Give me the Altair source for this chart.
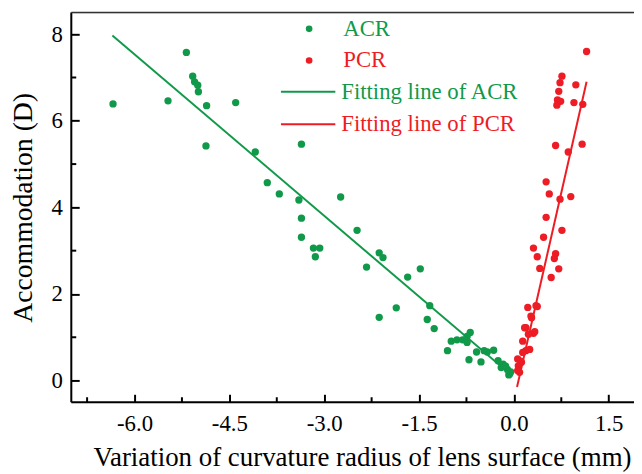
import altair as alt
import pandas as pd

SERIF = "Liberation Serif"

# ---- data ----
acr_x = [-6.34, -5.18, -5.08, -5.05, -5.00, -4.99, -5.47, -4.86, -4.40, -4.87,
         -4.09, -3.36, -3.90, -3.71, -3.40, -2.74, -3.36, -3.36, -2.48, -3.17,
         -3.07, -3.14, -2.13, -2.07, -2.33, -1.68, -1.48, -1.86, -2.13, -1.33,
         -1.37, -1.26, -0.69, -0.99, -0.90, -0.81, -0.74, -1.05, -0.71, -0.59,
         -0.52, -0.42, -0.32, -0.25, -0.17, -0.10, -0.08, -0.74, -0.20, -0.05,
         -0.13, -0.47]
acr_y = [6.39, 7.58, 7.03, 6.90, 6.82, 6.67, 6.46, 6.35, 6.42, 5.42,
         5.28, 5.46, 4.57, 4.31, 4.17, 4.24, 3.75, 3.31, 3.47, 3.06,
         3.06, 2.86, 2.95, 2.84, 2.62, 2.39, 2.58, 1.68, 1.46, 1.73,
         1.41, 1.20, 1.11, 0.91, 0.94, 0.94, 0.88, 0.69, 0.48, 0.66,
         0.43, 0.66, 0.70, 0.46, 0.38, 0.25, 0.13, 1.02, 0.30, 0.20,
         0.33, 0.69]

pcr_x = [1.15, 0.76, 0.73, 0.71, 0.98, 0.69, 0.74, 0.68, 0.95, 1.09,
         0.66, 0.86, 1.08, 0.51, 0.56, 0.73, 0.90, 0.51, 0.76, 0.47,
         0.31, 0.37, 0.66, 0.64, 0.41, 0.71, 0.59, 0.22, 0.37, 0.28,
         0.19, 0.31, 0.23, 0.14, 0.19, 0.14, 0.06, 0.12, 0.07, 0.09,
         0.25, 0.33, 0.17, 0.11, 0.06, 0.27, 0.35]
pcr_y = [7.60, 7.03, 6.88, 6.68, 6.83, 6.48, 6.45, 6.36, 6.42, 6.38,
         5.43, 5.28, 5.46, 4.59, 4.31, 4.19, 4.25, 3.77, 3.47, 3.31,
         3.06, 2.86, 2.93, 2.82, 2.59, 2.58, 2.38, 1.69, 1.71, 1.45,
         1.22, 1.09, 1.07, 0.91, 0.69, 0.65, 0.50, 0.42, 0.34, 0.19,
         0.72, 1.13, 1.22, 0.45, 0.23, 1.49, 1.73]

acr_fit_x = [-6.35, -0.02]
acr_fit_y = [7.97, 0.10]
pcr_fit_x = [0.05, 1.15]
pcr_fit_y = [-0.15, 6.90]

GREEN = "#11994a"
RED = "#ee1c24"
point_names = ["ACR", "PCR"]
line_names = ["Fitting line of ACR", "Fitting line of PCR"]
pair_colors = [GREEN, RED]

x_ticks = [-6.0, -4.5, -3.0, -1.5, 0.0, 1.5]
x_minor = [-6.75, -5.25, -3.75, -2.25, -0.75, 0.75]
y_ticks = [0, 2, 4, 6, 8]
y_minor = [1, 3, 5, 7]

x_title = "Variation of curvature radius of lens surface (mm)"
y_title = "Accommodation (D)"

# ---- tables ----
points_df = pd.concat([
    pd.DataFrame({"x": acr_x, "y": acr_y, "series": point_names[0]}),
    pd.DataFrame({"x": pcr_x, "y": pcr_y, "series": point_names[1]}),
], ignore_index=True)
lines_df = pd.concat([
    pd.DataFrame({"x": acr_fit_x, "y": acr_fit_y, "series": line_names[0]}),
    pd.DataFrame({"x": pcr_fit_x, "y": pcr_fit_y, "series": line_names[1]}),
], ignore_index=True)

W, H = 569, 394

xscale = alt.Scale(domain=[-7.0, 1.9], nice=False, zero=False)
yscale = alt.Scale(domain=[-0.5, 8.5], nice=False, zero=False)

x_axis = alt.Axis(
    values=x_ticks,
    labelExpr="replace(format(datum.value, '.1f'), '\u2212', '-')",
    offset=-8, tickSize=8, tickWidth=2, tickColor="black",
    domain=False, grid=False,
    labelFont=SERIF, labelFontSize=23, labelColor="black", labelPadding=11,
    title=x_title, titleFont=SERIF, titleFontSize=27.2, titleFontWeight="normal",
    titleColor="black", titlePadding=9, titleX=294,
)
y_axis = alt.Axis(
    values=y_ticks, format="d",
    offset=-8, tickSize=8, tickWidth=2, tickColor="black",
    domain=False, grid=False,
    labelFont=SERIF, labelFontSize=23, labelColor="black", labelPadding=9,
    title=y_title, titleFont=SERIF, titleFontSize=28, titleFontWeight="normal",
    titleColor="black", titlePadding=14,
)

label_color_expr = {"expr": "indexof(['ACR', 'Fitting line of ACR'], datum.value) >= 0 ? '%s' : '%s'" % (GREEN, RED)}

point_legend = alt.Legend(
    title=None, orient="none", legendX=229, legendY=5,
    symbolType="circle", symbolSize=45, symbolStrokeWidth=0,
    labelFont=SERIF, labelFontSize=23, labelOffset=23, labelLimit=500,
    labelColor=label_color_expr,
    rowPadding=8, padding=0,
)
line_legend = alt.Legend(
    title=None, orient="none", legendX=211, legendY=68.5,
    symbolType="stroke", symbolSize=3025, symbolStrokeWidth=2,
    labelFont=SERIF, labelFontSize=23, labelOffset=5, labelLimit=500,
    labelColor=label_color_expr, clipHeight=23,
    rowPadding=9, padding=0,
)

points = alt.Chart(points_df).mark_circle(size=55, opacity=1).encode(
    x=alt.X("x:Q", scale=xscale, axis=x_axis),
    y=alt.Y("y:Q", scale=yscale, axis=y_axis),
    fill=alt.Fill("series:N", scale=alt.Scale(domain=point_names, range=pair_colors),
                  legend=point_legend),
)

lines = alt.Chart(lines_df).mark_line(strokeWidth=2).encode(
    x=alt.X("x:Q", scale=xscale),
    y=alt.Y("y:Q", scale=yscale),
    stroke=alt.Stroke("series:N", scale=alt.Scale(domain=line_names, range=pair_colors),
                      legend=line_legend),
)

xminor = alt.Chart(pd.DataFrame({"x": x_minor})).mark_rule(color="black", strokeWidth=2).encode(
    x=alt.X("x:Q", scale=xscale), y=alt.value(H), y2=alt.value(H - 5),
)
yminor = alt.Chart(pd.DataFrame({"y": y_minor})).mark_rule(color="black", strokeWidth=2).encode(
    y=alt.Y("y:Q", scale=yscale), x=alt.value(0), x2=alt.value(5),
)

frame_df = pd.DataFrame({"k": [0]})
bottom_line = alt.Chart(frame_df).mark_rule(color="black", strokeWidth=2).encode(
    x=alt.value(0), x2=alt.value(W), y=alt.value(H))
left_line = alt.Chart(frame_df).mark_rule(color="black", strokeWidth=2).encode(
    x=alt.value(0), y=alt.value(0), y2=alt.value(H))
top_line = alt.Chart(frame_df).mark_rule(color="#333333", strokeWidth=1.5).encode(
    x=alt.value(0), x2=alt.value(W), y=alt.value(0))

chart = alt.layer(points, lines, xminor, yminor, bottom_line, left_line, top_line).properties(
    width=W, height=H,
    autosize=alt.AutoSizeParams(type="none"),
    padding={"left": 64, "top": 2, "right": 0, "bottom": 70},
).configure_view(stroke=None).configure(background="white")

chart.save("out.html", embed_options={"renderer": "svg", "actions": False})
